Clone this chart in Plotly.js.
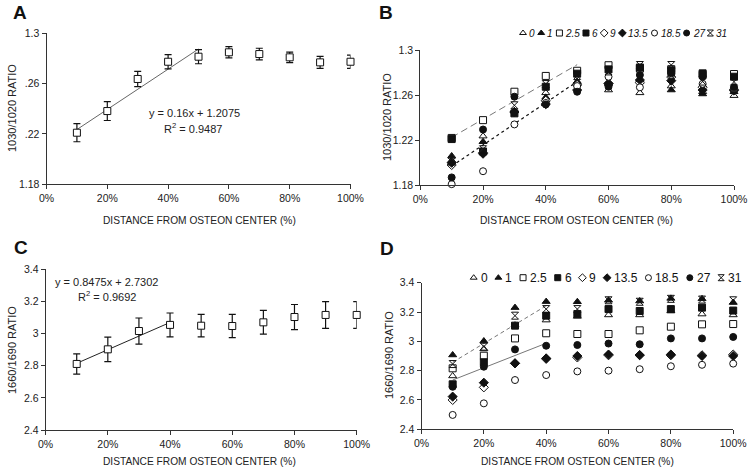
<!DOCTYPE html>
<html><head><meta charset="utf-8">
<script src="https://cdn.plot.ly/plotly-3.0.1.min.js"></script>
<style>html,body{margin:0;padding:0;background:#fff}#chart{width:754px;height:470px}</style>
</head><body><div id="chart"></div>
<script>
// ---------- data ----------
const distance = [0.1, 0.2, 0.3, 0.4, 0.5, 0.6, 0.7, 0.8, 0.9, 1.0];
const xTickVals = [0, 0.2, 0.4, 0.6, 0.8, 1.0];

// Panel A: 1030/1020 ratio (mean +/- error)
const ratioA = [1.221, 1.2382, 1.2637, 1.2774, 1.2814, 1.2849, 1.2835, 1.2809, 1.2769, 1.2774];
const errA   = [0.0072, 0.0075, 0.0060, 0.0057, 0.0056, 0.0045, 0.0046, 0.0042, 0.0048, 0.0052];
const fitA_slope = 0.16, fitA_intercept = 1.2075, fitA_x = [0.1, 0.5];
const yTickValsAB = [1.18, 1.22, 1.26, 1.3];
const yTickTextA = ['1.18', '.22', '.26', '1.3'];
const yTickTextB = ['1.18', '1.22', '1.26', '1.3'];

// Panel C: 1660/1690 ratio (mean +/- error)
const ratioC = [2.811, 2.902, 3.016, 3.054, 3.049, 3.047, 3.070, 3.103, 3.116, 3.116];
const errC   = [0.063, 0.076, 0.081, 0.074, 0.070, 0.072, 0.074, 0.078, 0.083, 0.083];
const fitC_slope = 0.8475, fitC_intercept = 2.7302, fitC_x = [0.1, 0.4];
const yTickValsCD = [2.4, 2.6, 2.8, 3.0, 3.2, 3.4];

// Series (legend) names
const seriesNames = ['0', '1', '2.5', '6', '9', '13.5', '18.5', '27', '31'];

// Panel B: 1030/1020 ratio per series
const b0   = [1.202, 1.2236, 1.246, 1.262, 1.272, 1.2645, 1.262, 1.268, 1.263, 1.2595];
const b1   = [1.206, 1.2186, 1.246, 1.258, 1.272, 1.270, 1.2735, 1.2645, 1.261, 1.263];
const b2_5 = [1.222, 1.2378, 1.263, 1.277, 1.2816, 1.2865, 1.2835, 1.283, 1.278, 1.2787];
const b6   = [1.221, 1.210, 1.2438, 1.2674, 1.279, 1.2828, 1.2845, 1.282, 1.2793, 1.2763];
const b9   = [1.198, 1.209, 1.245, 1.255, 1.269, 1.270, 1.271, 1.276, 1.267, 1.265];
const b13_5= [1.200, 1.208, 1.245, 1.252, 1.2645, 1.2704, 1.2734, 1.2728, 1.2645, 1.264];
const b18_5= [1.181, 1.1925, 1.234, 1.253, 1.268, 1.2763, 1.2669, 1.278, 1.270, 1.266];
const b27  = [1.187, 1.2295, 1.2586, 1.2517, 1.263, 1.2674, 1.2778, 1.2793, 1.2763, 1.2669];
const b31  = [1.201, 1.212, 1.251, 1.2698, 1.277, 1.281, 1.2867, 1.2867, 1.272, 1.2719];
const trendB_x = [0.1, 0.5];
const trendB_dashed = [1.2225, 1.287];
const trendB_dotted = [1.197, 1.272];

// Panel D: 1660/1690 ratio per series
const d0   = [2.764, 2.948, 3.11, 3.145, 3.17, 3.18, 3.18, 3.207, 3.186, 3.18];
const d1   = [2.907, 3.002, 3.23, 3.271, 3.27, 3.28, 3.275, 3.293, 3.29, 3.265];
const d2_5 = [2.816, 2.902, 3.02, 3.055, 3.05, 3.05, 3.075, 3.10, 3.116, 3.118];
const d6   = [2.707, 2.857, 3.107, 3.175, 3.186, 3.22, 3.207, 3.22, 3.23, 3.21];
const d9   = [2.60, 2.686, 2.85, 2.88, 2.89, 2.905, 2.905, 2.905, 2.905, 2.91];
const d13_5= [2.623, 2.718, 2.85, 2.884, 2.90, 2.91, 2.907, 2.91, 2.90, 2.90];
const d18_5= [2.498, 2.577, 2.736, 2.77, 2.795, 2.80, 2.81, 2.83, 2.84, 2.848];
const d27  = [2.69, 2.827, 2.945, 2.97, 2.975, 2.985, 2.98, 3.02, 3.02, 3.03];
const d31  = [2.845, 2.964, 3.175, 3.22, 3.22, 3.28, 3.27, 3.29, 3.285, 3.28];
const trendD_x = [0.1, 0.4];
const trendD_dashed = [2.857, 3.243];
const trendD_solid = [2.736, 2.987];

// ---------- styles ----------
const FONT = 'Liberation Sans, Arial, sans-serif';
const INK = '#111';
const symbols = [
  {symbol: 'triangle-up', fill: 'white'},
  {symbol: 'triangle-up', fill: INK},
  {symbol: 'square', fill: 'white'},
  {symbol: 'square', fill: INK},
  {symbol: 'diamond', fill: 'white'},
  {symbol: 'diamond', fill: INK},
  {symbol: 'circle', fill: 'white'},
  {symbol: 'circle', fill: INK},
  {symbol: 'hourglass-open', fill: INK}
];
const seriesB = [b0, b1, b2_5, b6, b9, b13_5, b18_5, b27, b31];
const seriesD = [d0, d1, d2_5, d6, d9, d13_5, d18_5, d27, d31];

function markerStyle(i, size) {
  const s = symbols[i];
  return {symbol: s.symbol, size: size, color: s.fill, line: {color: INK, width: 1}};
}

const W = 754, H = 470;
const px = (a, b) => [a / W, b / W];
const py = (top, bottom) => [1 - bottom / H, 1 - top / H];

const traces = [];
const ann = [];

// Panel A
traces.push({x: fitA_x, y: fitA_x.map(v => fitA_slope * v + fitA_intercept), xaxis: 'x', yaxis: 'y',
  mode: 'lines', line: {color: '#666', width: 1}, hoverinfo: 'skip', showlegend: false});
traces.push({x: distance, y: ratioA, xaxis: 'x', yaxis: 'y', mode: 'markers', showlegend: false, cliponaxis: false,
  marker: {symbol: 'square', size: 7, color: 'white', line: {color: INK, width: 1}},
  error_y: {type: 'data', array: errA, visible: true, color: INK, thickness: 1.2, width: 3.5}});

// Panel C
traces.push({x: fitC_x, y: fitC_x.map(v => fitC_slope * v + fitC_intercept), xaxis: 'x3', yaxis: 'y3',
  mode: 'lines', line: {color: '#222', width: 1}, hoverinfo: 'skip', showlegend: false});
traces.push({x: distance, y: ratioC, xaxis: 'x3', yaxis: 'y3', mode: 'markers', showlegend: false, cliponaxis: false,
  marker: {symbol: 'square', size: 7, color: 'white', line: {color: INK, width: 1}},
  error_y: {type: 'data', array: errC, visible: true, color: INK, thickness: 1.2, width: 3.5}});

// Panel B trendlines + series
traces.push({x: trendB_x, y: trendB_dashed, xaxis: 'x2', yaxis: 'y2', mode: 'lines', showlegend: false,
  line: {color: '#777', width: 1, dash: '7px,4px'}});
traces.push({x: trendB_x, y: trendB_dotted, xaxis: 'x2', yaxis: 'y2', mode: 'lines', showlegend: false,
  line: {color: '#111', width: 1.2, dash: 'dot'}});
seriesB.forEach((ys, i) => traces.push({x: distance, y: ys, xaxis: 'x2', yaxis: 'y2', mode: 'markers',
  name: seriesNames[i], showlegend: false, cliponaxis: false, marker: markerStyle(i, 7)}));

// Panel D trendlines + series
traces.push({x: trendD_x, y: trendD_dashed, xaxis: 'x4', yaxis: 'y4', mode: 'lines', showlegend: false,
  line: {color: '#777', width: 1, dash: '4px,3px'}});
traces.push({x: trendD_x, y: trendD_solid, xaxis: 'x4', yaxis: 'y4', mode: 'lines', showlegend: false,
  line: {color: '#777', width: 1}});
seriesD.forEach((ys, i) => traces.push({x: distance, y: ys, xaxis: 'x4', yaxis: 'y4', mode: 'markers',
  name: seriesNames[i], showlegend: false, cliponaxis: false, marker: markerStyle(i, 7)}));

// Compact legends: the row is laid out from label widths (Arial/Liberation Sans metrics)
// so that it spans the given pixel extent (first marker centre -> end of last label).
function textWidth(s, size) {
  let w = 0;
  for (const ch of s) w += (ch === '.' ? 0.278 : 0.556) * size;
  return w;
}
function legendRow(size, textOffset, startPx, endPx) {
  const n = seriesNames.length;
  const w = seriesNames.map(s => textWidth(s, size));
  const total = w.reduce((a, b) => a + b, 0);
  const gap = (endPx - startPx - total - n * textOffset) / (n - 1);
  const xs = []; let x = startPx;
  w.forEach(wi => { xs.push(x); x += wi + textOffset + gap; });
  return xs;
}
const LEG_B = {font: 10, offset: 5.5, start: 523, end: 727, y: 33};
const LEG_D = {font: 12, offset: 6.5, start: 473.7, end: 741, y: 277.7};
const legBx = legendRow(LEG_B.font, LEG_B.offset, LEG_B.start, LEG_B.end);
const legDx = legendRow(LEG_D.font, LEG_D.offset, LEG_D.start, LEG_D.end);
seriesNames.forEach((n, i) => {
  traces.push({x: [legBx[i]], y: [0.5], xaxis: 'x5', yaxis: 'y5', mode: 'markers', showlegend: false,
    cliponaxis: false, hoverinfo: 'skip', marker: markerStyle(i, 6)});
  ann.push({text: '<i>' + n + '</i>', x: legBx[i] + LEG_B.offset - 1.5, y: 0.5, xref: 'x5', yref: 'y5', xanchor: 'left',
    yanchor: 'middle', showarrow: false, font: {family: FONT, size: LEG_B.font, color: INK}});
  traces.push({x: [legDx[i]], y: [0.5], xaxis: 'x6', yaxis: 'y6', mode: 'markers', showlegend: false,
    cliponaxis: false, hoverinfo: 'skip', marker: markerStyle(i, 6)});
  ann.push({text: n, x: legDx[i] + LEG_D.offset - 1.5, y: 0.5, xref: 'x6', yref: 'y6', xanchor: 'left',
    yanchor: 'middle', showarrow: false, font: {family: FONT, size: LEG_D.font, color: INK}});
});

function xAxis(domain, anchor) {
  return {domain: domain, anchor: anchor, range: [0, 1], tickvals: xTickVals, tickformat: '.0%',
    showgrid: false, zeroline: false, showline: true, linecolor: '#333', linewidth: 1,
    ticks: 'outside', ticklen: 4, tickcolor: '#333', tickfont: {family: FONT, size: 10.5, color: '#222'}, fixedrange: true};
}
function yAxis(domain, anchor, range, vals, text) {
  const a = {domain: domain, anchor: anchor, range: range, tickvals: vals,
    showgrid: false, zeroline: false, showline: true, linecolor: '#333', linewidth: 1,
    ticks: 'outside', ticklen: 4, tickcolor: '#333', tickfont: {family: FONT, size: 10.5, color: '#222'}, fixedrange: true};
  if (text) a.ticktext = text;
  return a;
}
function hidden(domain, anchor, range) {
  return {domain: domain, anchor: anchor, range: range, visible: false, fixedrange: true};
}

function label(text, x, y, opts) {
  ann.push(Object.assign({text: text, x: x / W, y: 1 - y / H, xref: 'paper', yref: 'paper', showarrow: false,
    xanchor: 'center', yanchor: 'middle', font: {family: FONT, size: 11, color: '#222'}}, opts || {}));
}
const bigFont = {family: FONT, size: 19, color: '#111'};
label('<b>A</b>', 20, 13, {font: bigFont});
label('<b>B</b>', 386, 13, {font: bigFont});
label('<b>C</b>', 21, 247, {font: bigFont});
label('<b>D</b>', 387, 248, {font: bigFont});
const xTitle = 'DISTANCE FROM OSTEON CENTER (%)';
const titleFont = {family: FONT, size: 10.2, color: '#222'};
label(xTitle, 199, 220, {font: titleFont}); label(xTitle, 576, 220, {font: titleFont});
label(xTitle, 199, 461, {font: titleFont}); label(xTitle, 577, 461, {font: titleFont});
label('1030/1020 RATIO', 12, 108, {textangle: -90});
label('1030/1020 RATIO', 387, 117, {textangle: -90});
label('1660/1690 RATIO', 12, 350, {textangle: -90});
label('1660/1690 RATIO', 389, 355, {textangle: -90});
label('y = 0.16x + 1.2075', 194, 113);
label('R<sup>2</sup> = 0.9487', 193, 128);
label('y = 0.8475x + 2.7302', 106, 282);
label('R<sup>2</sup> = 0.9692', 107, 296);

const layout = {
  width: W, height: H, margin: {l: 0, r: 0, t: 0, b: 0}, paper_bgcolor: '#fff', plot_bgcolor: 'rgba(0,0,0,0)',
  showlegend: false, font: {family: FONT, color: '#222'},
  xaxis: xAxis(px(46.5, 350.5), 'y'),
  yaxis: yAxis(py(33.3, 184.3), 'x', [1.18, 1.3], yTickValsAB, yTickTextA),
  xaxis2: xAxis(px(420.3, 734), 'y2'),
  yaxis2: yAxis(py(50, 185.3), 'x2', [1.18, 1.3], yTickValsAB, yTickTextB),
  xaxis3: xAxis(px(45.6, 356.7), 'y3'),
  yaxis3: yAxis(py(269.3, 430), 'x3', [2.4, 3.4], yTickValsCD),
  xaxis4: xAxis(px(421.5, 733.2), 'y4'),
  yaxis4: yAxis(py(282.7, 429.3), 'x4', [2.4, 3.4], yTickValsCD),
  xaxis5: hidden([0, 1], 'y5', [0, W]),
  yaxis5: hidden(py(LEG_B.y - 10, LEG_B.y + 10), 'x5', [0, 1]),
  xaxis6: hidden([0, 1], 'y6', [0, W]),
  yaxis6: hidden(py(LEG_D.y - 10, LEG_D.y + 10), 'x6', [0, 1]),
  annotations: ann
};

Plotly.newPlot('chart', traces, layout, {staticPlot: true, displayModeBar: false});
</script>
</body></html>
